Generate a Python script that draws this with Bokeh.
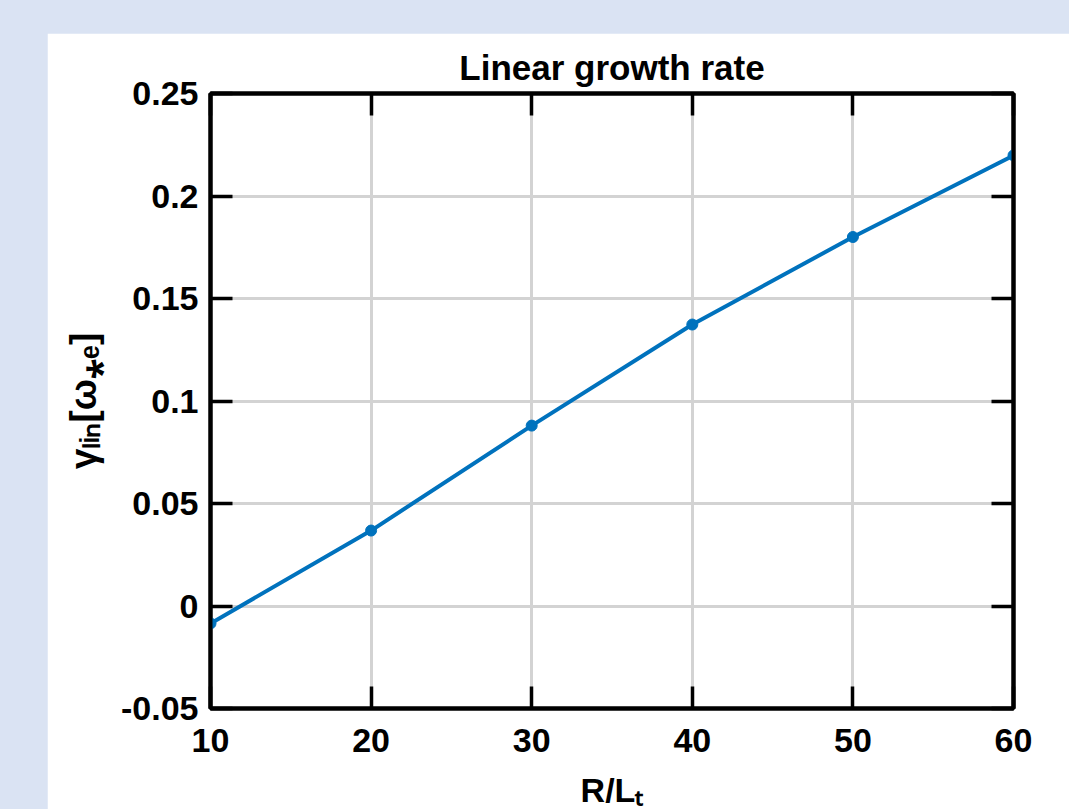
from bokeh.plotting import figure
from bokeh.models import LinearAxis, FixedTicker, Range1d
from bokeh.layouts import column
from bokeh.embed import file_html
from bokeh.resources import INLINE

# ---- data ----
rlt = [10, 20, 30, 40, 50, 60]
gamma_lin = [-0.0085, 0.0368, 0.0880, 0.1373, 0.1800, 0.2198]
x_ticks = [10, 20, 30, 40, 50, 60]
y_ticks = [-0.05, 0.0, 0.05, 0.1, 0.15, 0.2, 0.25]
y_tick_labels = ["-0.05", "0", "0.05", "0.1", "0.15", "0.2", "0.25"]
title_text = "Linear growth rate"
x_label = "R/Lₜ"
y_label = "γₗᵢₙ[ω⁎ₑ]"

FONT = "Liberation Sans"
TICK_SIZE = "34px"
LINE_BLUE = "#0072BD"

p = figure(width=1022, height=790,
           x_range=Range1d(10, 60), y_range=Range1d(-0.05, 0.25),
           output_backend="svg", toolbar_location=None,
           min_border_left=163, min_border_top=60,
           min_border_right=56, min_border_bottom=115)
p.margin = (33, 0, 0, 47)
p.background_fill_color = "white"
p.border_fill_color = "white"
p.outline_line_color = "black"
p.outline_line_width = 4

p.title.text = title_text
p.title.align = "center"
p.title.text_font = FONT
p.title.text_font_size = "35px"
p.title.text_font_style = "bold"
p.title.text_color = "black"
p.title.standoff = 13


def style_axis(ax, ticks, labels=True):
    ax.ticker = FixedTicker(ticks=ticks)
    ax.axis_line_color = "black"
    ax.axis_line_width = 4
    ax.major_tick_in = 22
    ax.major_tick_out = 0
    ax.major_tick_line_color = "black"
    ax.major_tick_line_width = 3.5
    ax.minor_tick_line_color = None
    if labels:
        ax.major_label_text_font = FONT
        ax.major_label_text_font_size = TICK_SIZE
        ax.major_label_text_font_style = "bold"
        ax.major_label_text_color = "black"
    else:
        ax.major_label_text_font_size = "1px"
        ax.major_label_text_color = None
        ax.major_label_standoff = 0


xa = p.xaxis[0]
ya = p.yaxis[0]
style_axis(xa, x_ticks)
style_axis(ya, y_ticks)
xa.major_label_standoff = 20
ya.major_label_standoff = 12
ya.major_label_overrides = {t: s for t, s in zip(y_ticks, y_tick_labels)}

xa.axis_label = x_label
xa.axis_label_text_font = FONT
xa.axis_label_text_font_size = "34px"
xa.axis_label_text_font_style = "bold"
xa.axis_label_text_color = "black"
xa.axis_label_standoff = 16

ya.axis_label = y_label
ya.axis_label_text_font = FONT
ya.axis_label_text_font_size = "37px"
ya.axis_label_text_font_style = "bold"
ya.axis_label_text_color = "black"
ya.axis_label_standoff = 14

top_ax = LinearAxis()
style_axis(top_ax, x_ticks, labels=False)
p.add_layout(top_ax, "above")
right_ax = LinearAxis()
style_axis(right_ax, y_ticks, labels=False)
p.add_layout(right_ax, "right")

p.xgrid.ticker = FixedTicker(ticks=x_ticks)
p.ygrid.ticker = FixedTicker(ticks=y_ticks)
for g in (p.xgrid, p.ygrid):
    g.grid_line_color = "#d3d3d3"
    g.grid_line_width = 3

p.line(rlt, gamma_lin, line_color=LINE_BLUE, line_width=4)
p.scatter(rlt, gamma_lin, size=11, fill_color=LINE_BLUE, line_color=LINE_BLUE)

page = column(p, width=1069, height=809,
              styles={"background-color": "#dae3f3", "overflow": "hidden"})

open("out.html", "w").write(file_html(page, INLINE))
